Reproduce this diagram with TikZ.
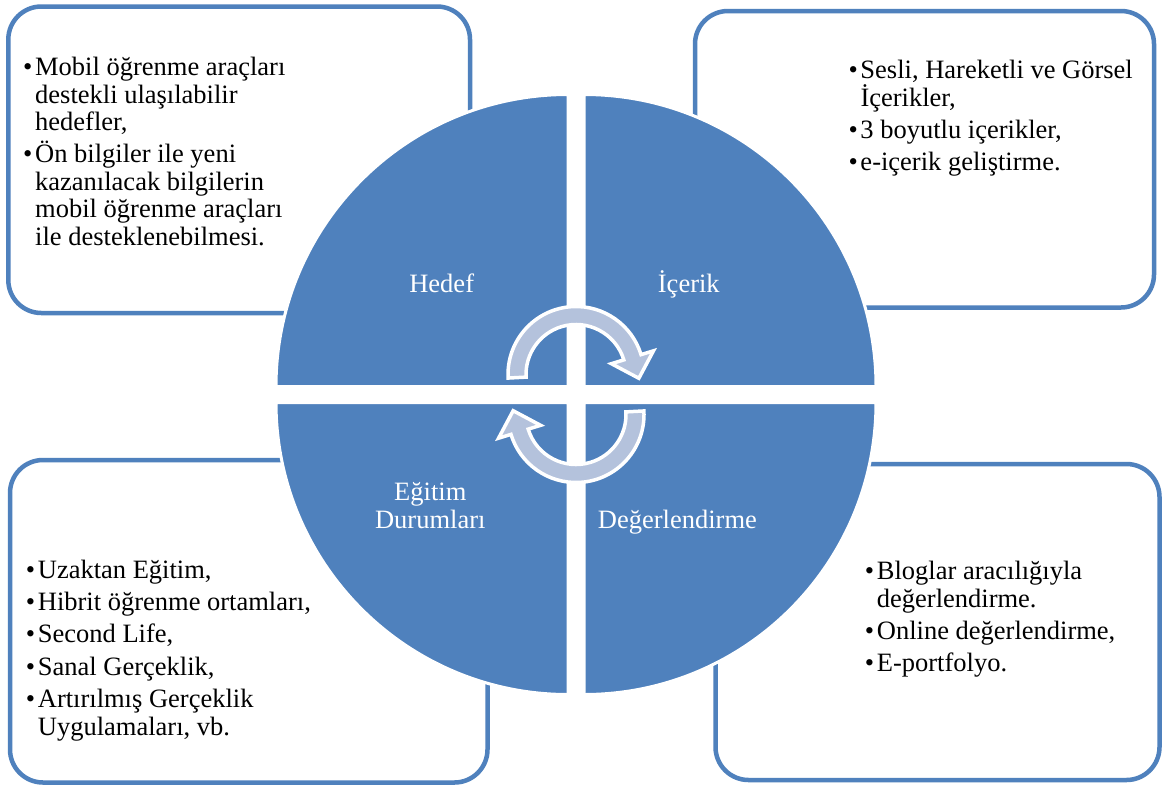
\documentclass[tikz,border=0pt]{standalone}
\usepackage{fontspec}
\setmainfont{Liberation Serif}
\definecolor{qblue}{HTML}{4F81BD}
\definecolor{arrowfill}{HTML}{B4C2DC}
\newcommand{\bitem}[1]{\makebox[12pt][l]{•}#1}
\newcommand{\bcont}[1]{\hspace*{12pt}#1}
\begin{document}
\begin{tikzpicture}[x=1pt,y=-1pt,
  box/.style={rectangle, rounded corners=33pt, draw=qblue, line width=4.5pt, fill=white, inner sep=0pt},
  quad/.style={fill=qblue, draw=white, line width=3pt},
  cyc/.style={fill=arrowfill, draw=white, line width=3.5pt, line join=miter},
  txt/.style={anchor=base west, align=left, inner sep=0pt, font=\fontsize{26.5}{27.5}\selectfont, text=black},
  lbl/.style={anchor=base, align=center, inner sep=0pt, font=\fontsize{26.5}{27.7}\selectfont, text=white}]
\useasboundingbox (0,0) rectangle (1164,785);
\fill[white] (0,0) rectangle (1164,785);
% boxes
\node[box, minimum width=461.7pt, minimum height=306.5pt] (boxtl) at (239.15,159.75) {};
\node[box, minimum width=459pt, minimum height=296.5pt] (boxtr) at (924.5,159.25) {};
\node[box, minimum width=477.5pt, minimum height=322.5pt] (boxbl) at (248.75,621.25) {};
\node[box, minimum width=444pt, minimum height=316pt] (boxbr) at (937.5,622) {};
% quadrants
\path[quad] (568,386.5) -- ++(-292,0) arc[start angle=180, end angle=270, radius=292] -- cycle;
\path[quad] (584,386.5) -- ++(0,-292) arc[start angle=270, end angle=360, radius=292] -- cycle;
\path[quad] (584,402.5) -- ++(292,0) arc[start angle=0, end angle=90, radius=292] -- cycle;
\path[quad] (568,402.5) -- ++(0,292) arc[start angle=90, end angle=180, radius=292] -- cycle;
% circular arrows
\begin{scope}[shift={(576,374.5)}]
\path[cyc] (177:68) arc[start angle=177, end angle=343, radius=68] -- (343:81) -- (62.85,3.79) -- (343:37) -- (343:50) arc[start angle=343, end angle=177, radius=50] -- cycle;
\end{scope}
\begin{scope}[shift={(576,414.5)}, rotate=180]
\path[cyc] (177:68) arc[start angle=177, end angle=343, radius=68] -- (343:81) -- (62.85,3.79) -- (343:37) -- (343:50) arc[start angle=343, end angle=177, radius=50] -- cycle;
\end{scope}
% labels
\node[lbl] (hedef) at (441.7,292.3) {Hedef};
\node[lbl] (icerik) at (688.8,292.3) {İçerik};
\node[lbl] (egitim) at (430.3,528) {Eğitim\\Durumları};
\node[lbl] (deger) at (677.4,528) {Değerlendirme};
% box texts (anchored at the baseline of the last line)
\node[txt] (ttl) at (23,245.3) {\bitem{Mobil öğrenme araçları}\\
\bcont{destekli ulaşılabilir}\\
\bcont{hedefler,}\\[4.8pt]
\bitem{Ön bilgiler ile yeni}\\
\bcont{kazanılacak bilgilerin}\\
\bcont{mobil öğrenme araçları}\\
\bcont{ile desteklenebilmesi.}};
\node[txt] (ttr) at (848.3,170.7) {\bitem{Sesli, Hareketli ve Görsel}\\
\bcont{İçerikler,}\\[4.8pt]
\bitem{3 boyutlu içerikler,}\\[4.8pt]
\bitem{e-içerik geliştirme.}};
\node[txt] (tbl) at (25.7,735) {\bitem{Uzaktan Eğitim,}\\[4.8pt]
\bitem{Hibrit öğrenme ortamları,}\\[4.8pt]
\bitem{Second Life,}\\[4.8pt]
\bitem{Sanal Gerçeklik,}\\[4.8pt]
\bitem{Artırılmış Gerçeklik}\\
\bcont{Uygulamaları, vb.}};
\node[txt] (tbr) at (864.7,671.7) {\bitem{Bloglar aracılığıyla}\\
\bcont{değerlendirme.}\\[4.8pt]
\bitem{Online değerlendirme,}\\[4.8pt]
\bitem{E-portfolyo.}};
\end{tikzpicture}
\end{document}
